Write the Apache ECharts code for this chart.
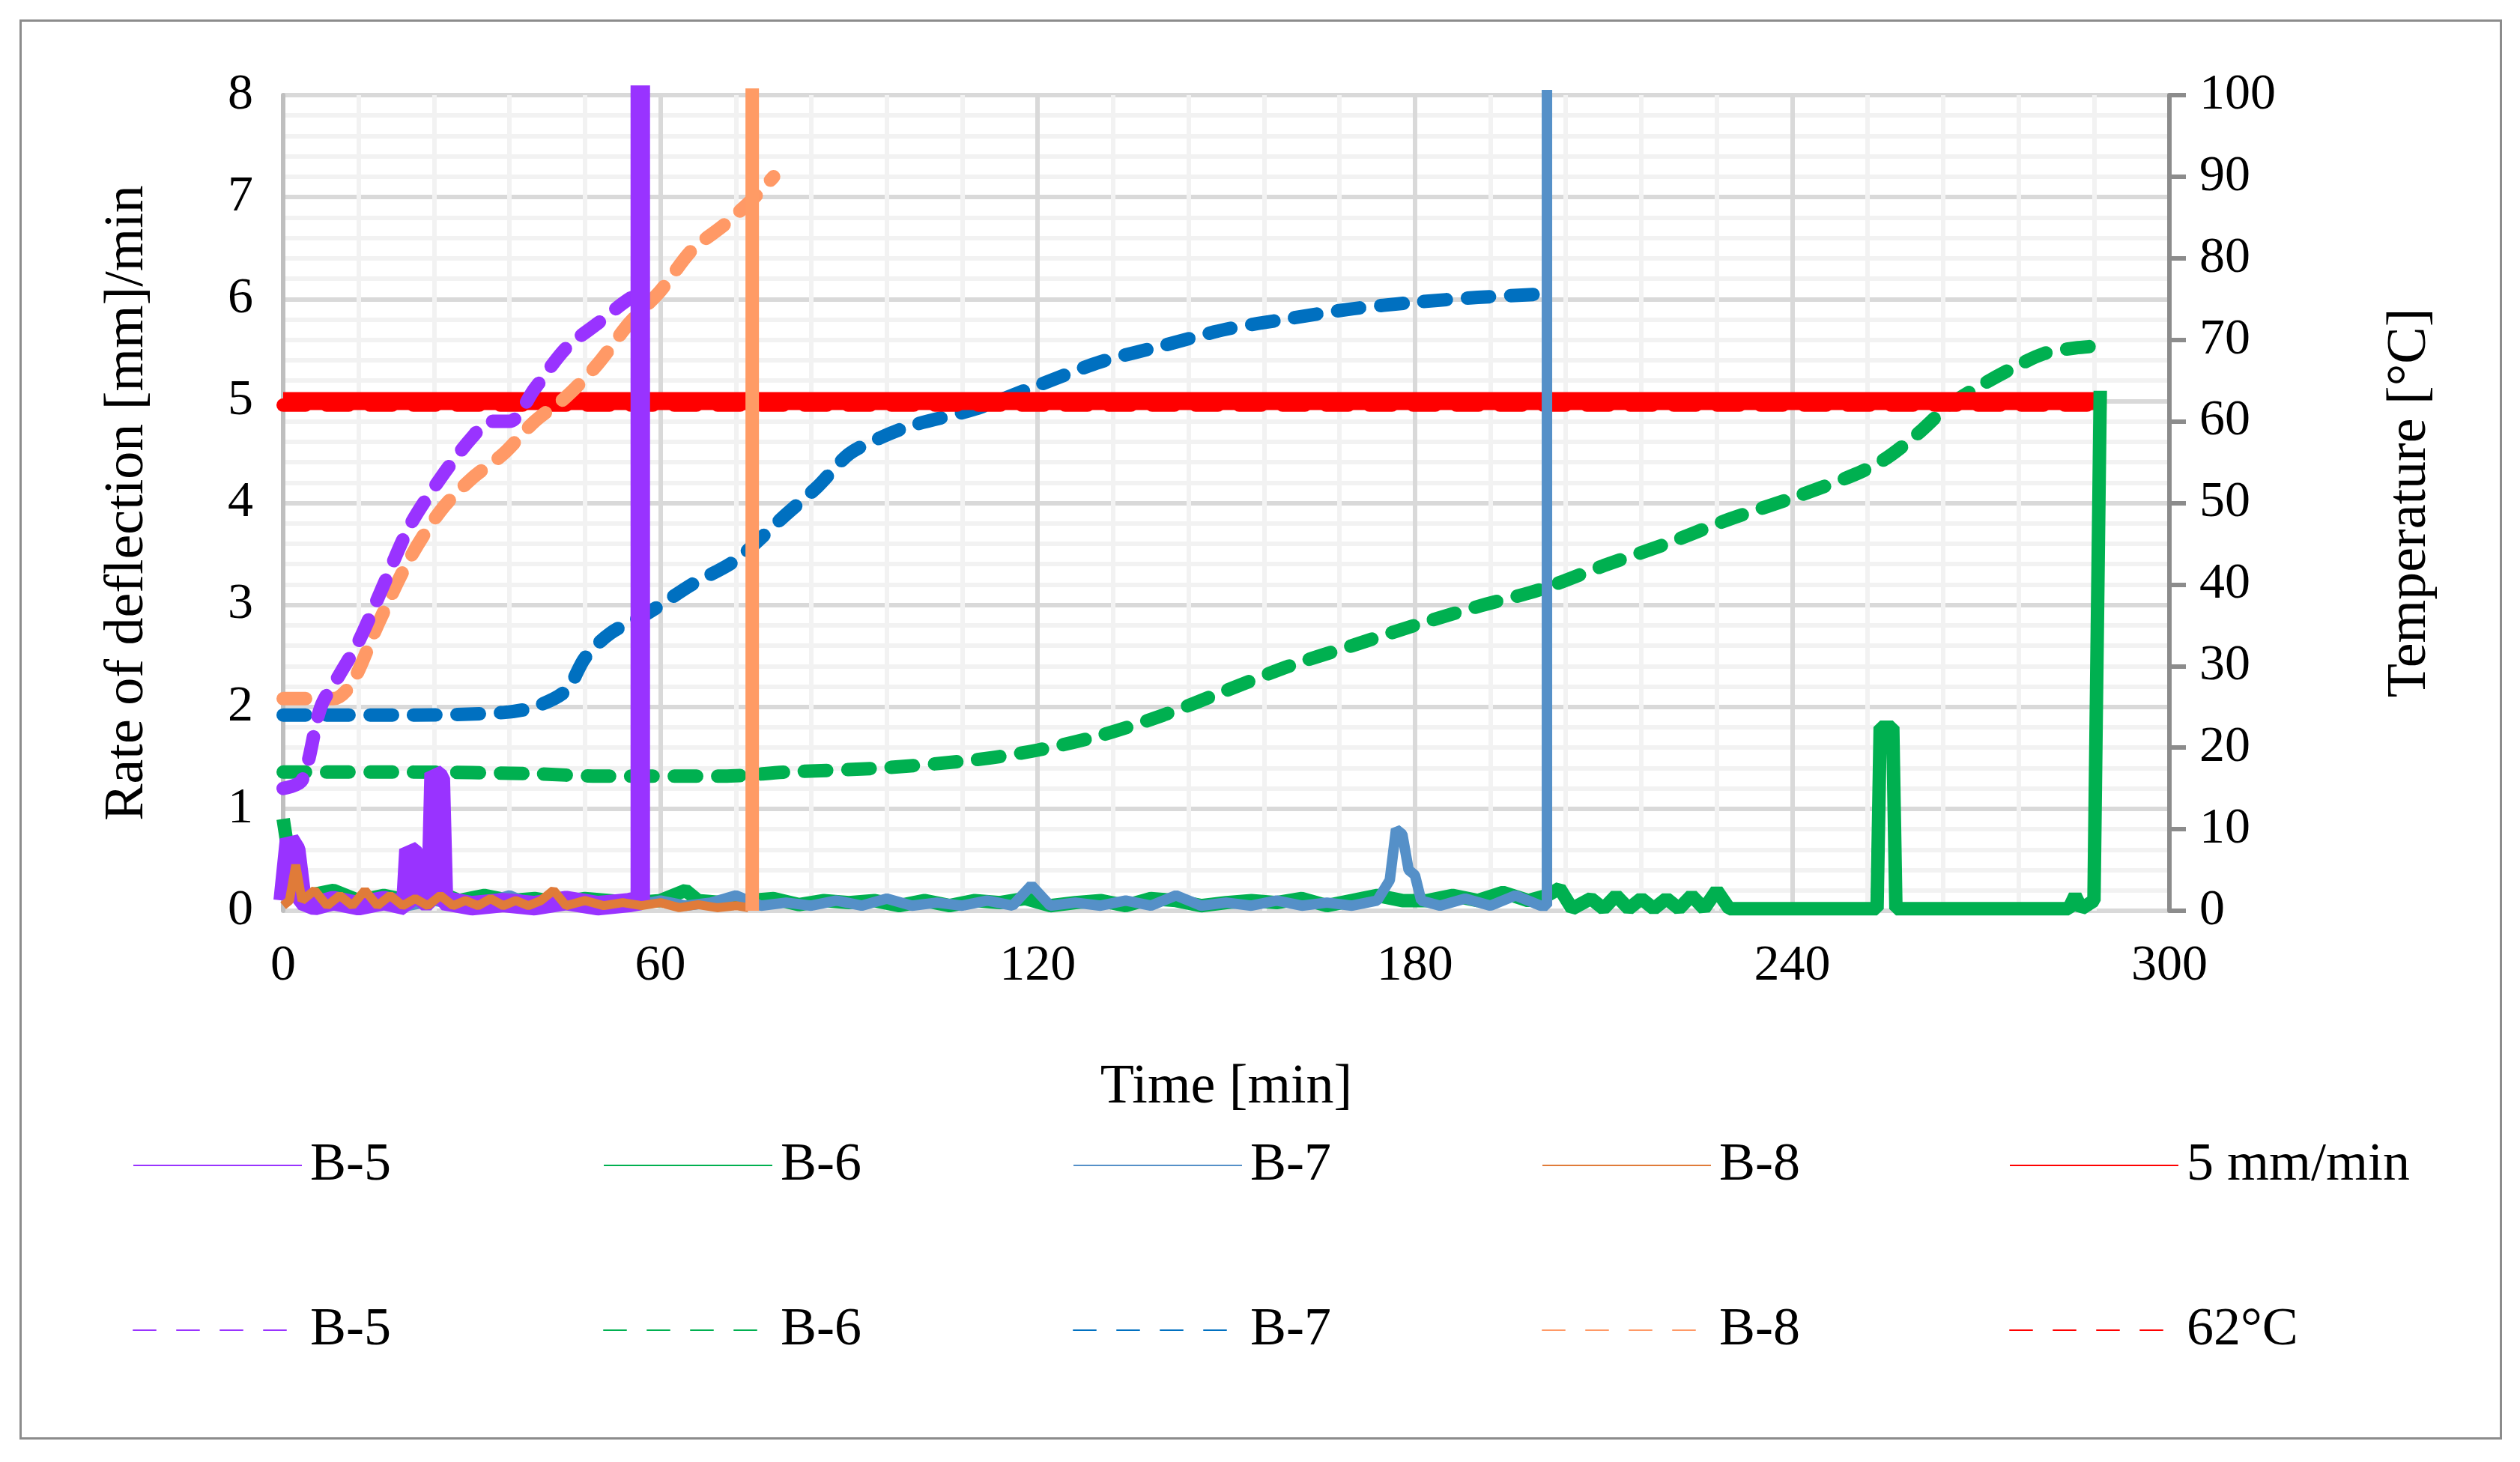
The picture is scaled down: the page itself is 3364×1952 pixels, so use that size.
<!DOCTYPE html>
<html><head><meta charset="utf-8">
<script src="https://cdn.jsdelivr.net/npm/echarts@6/dist/echarts.min.js"></script>
<style>
html,body{margin:0;padding:0;background:#fff;}
#frame{position:absolute;left:26px;top:26px;width:3308px;height:1890px;border:3px solid #8c8c8c;}
#main{position:absolute;left:0;top:0;width:3364px;height:1952px;}
</style></head>
<body><div id="frame"></div><div id="main"></div>
<script>
// rate of deflection [mm/min], pairs [time, rate]
var b5Rate = [[0,0.1],[1,0.7],[2,0.6],[3,0.1],[5,0.05],[8,0.1],[12,0.05],[16,0.1],[19.5,0.05],[20,0.6],[21,0.55],[22,0.1],[23.5,0.1],[24,1.35],[25,1.3],[25.5,0.1],[30,0.05],[35,0.08],[40,0.05],[45,0.1],[50,0.05],[55,0.08],[56.8,0.1],[56.8,8.5]];
var b6Rate = [[0,0.9],[1,0.5],[2,0.2],[4,0.15],[8,0.2],[12,0.1],[16,0.15],[20,0.1],[24,0.2],[28,0.1],[32,0.15],[36,0.1],[40,0.12],[44,0.08],[48,0.12],[52,0.1],[56,0.08],[60,0.1],[64,0.2],[66,0.1],[70,0.08],[74,0.1],[78,0.12],[82,0.06],[86,0.1],[90,0.08],[94,0.1],[98,0.05],[102,0.1],[106,0.05],[110,0.1],[114,0.08],[118,0.12],[122,0.05],[126,0.08],[130,0.1],[134,0.05],[138,0.12],[142,0.1],[146,0.05],[150,0.08],[154,0.1],[158,0.08],[162,0.12],[166,0.05],[170,0.1],[174,0.15],[178,0.1],[182,0.1],[186,0.15],[190,0.1],[194,0.18],[198,0.1],[201,0.15],[203,0.22],[205,0.02],[208,0.12],[210,0.02],[212,0.15],[214,0.02],[216,0.12],[218,0.02],[220,0.12],[222,0.02],[224,0.15],[226,0.02],[228,0.2],[230,0.02],[253.5,0.02],[254,1.8],[256,1.8],[256.5,0.02],[284,0.02],[285,0.15],[286,0.02],[288,0.1],[289,5.1]];
var b7Rate = [[0,0.1],[2,0.2],[4,0.05],[8,0.1],[12,0.05],[16,0.08],[20,0.05],[24,0.1],[28,0.05],[32,0.08],[36,0.15],[40,0.05],[44,0.1],[48,0.05],[52,0.08],[56,0.05],[60,0.1],[64,0.05],[68,0.08],[72,0.15],[76,0.05],[80,0.08],[84,0.05],[88,0.1],[92,0.05],[96,0.12],[100,0.05],[104,0.08],[108,0.05],[112,0.1],[116,0.05],[119,0.25],[122,0.05],[126,0.08],[130,0.05],[134,0.1],[138,0.05],[142,0.15],[146,0.05],[150,0.08],[154,0.05],[158,0.1],[162,0.05],[166,0.08],[170,0.05],[174,0.1],[176,0.3],[177,0.8],[178,0.75],[179,0.4],[180,0.35],[181,0.1],[184,0.05],[188,0.12],[192,0.05],[196,0.15],[200,0.05],[201,0.05],[201,8.5]];
var b8Rate = [[0,0.05],[1,0.1],[2,0.45],[3,0.1],[5,0.2],[7,0.05],[9,0.15],[11,0.05],[13,0.2],[15,0.05],[17,0.15],[19,0.05],[21,0.12],[23,0.05],[25,0.15],[27,0.05],[29,0.1],[31,0.05],[33,0.12],[35,0.05],[37,0.1],[39,0.05],[41,0.1],[43,0.2],[45,0.05],[48,0.1],[51,0.05],[54,0.08],[57,0.05],[60,0.08],[63,0.03],[66,0.06],[69,0.03],[72,0.05],[74,0.03]];
var b8Failure = [[74.6,0],[74.6,8.5]];
var limitRate = [[0,5],[290,5]];
// temperature [°C]
var b5Temp = [[0,15],[3,16],[6,25],[9,29],[12,33],[16,40],[20,47],[25,53],[30,58],[33,60],[36,60],[40,64],[45,69],[50,72],[55,75],[57,75.5]];
var b6Temp = [[0,17],[20,17],[40,16.8],[50,16.5],[70,16.5],[80,17],[95,17.5],[110,18.5],[120,19.7],[130,21.5],[140,24],[150,27],[160,30],[170,32.5],[180,35],[190,37.3],[200,39.4],[210,42.3],[220,45],[230,48],[240,50.6],[250,53.5],[255,55.5],[260,58.5],[265,62],[270,64.4],[275,66.5],[280,68.3],[285,69],[290,69.3]];
var b7Temp = [[0,24],[20,24],[35,24.3],[40,25],[45,27],[48,31],[52,34],[58,36.5],[65,40],[72,43],[80,48.6],[85,52],[90,56],[95,58],[100,59.5],[110,61.5],[120,64.4],[130,67.3],[140,69.3],[150,71.3],[160,72.6],[170,73.8],[180,74.6],[190,75.2],[200,75.6]];
var b8Temp = [[0,26],[8,26],[11,28],[15,35],[20,43],[25,49],[30,53],[35,56],[40,60],[45,63],[50,67],[55,72],[60,76],[65,81],[70,84],[75,87.5],[78,90]];
var limitTemp = [[0,62],[290,62]];
var xTicks = [0, 300, 60];
var font = 'Liberation Serif';

var chart = echarts.init(document.getElementById('main'));
function solid(name, data, color, w) {
  return {name: name, type: 'line', data: data, yAxisIndex: 0, symbol: 'none', color: color,
    lineStyle: {width: w, color: color}};
}
function dashed(name, data, color) {
  return {name: name, type: 'line', data: data, yAxisIndex: 1, symbol: 'none', smooth: 0.3, color: color,
    lineStyle: {width: 18, color: color, type: [30, 28], cap: 'round'}};
}
var legendXs = [172, 800, 1427, 2053, 2677];
var names1 = ['B-5', 'B-6', 'B-7', 'B-8', '5 mm/min'];
var names2 = ['B-5 T', 'B-6 T', 'B-7 T', 'B-8 T', '62°C T'];
var legends = [];
for (var i = 0; i < 5; i++) {
  [[names1[i], 1515], [names2[i], 1735]].forEach(function (p) {
    legends.push({data: [p[0]], left: legendXs[i], top: p[1], itemWidth: 225, itemHeight: 60, itemGap: 0,
      itemStyle: {opacity: 0},
      textStyle: {fontFamily: font, fontSize: 72, color: '#000', padding: [0, 0, 0, 6]},
      formatter: function (n) { return n.replace(' T', ''); }});
  });
}
chart.setOption({
  animation: false,
  legend: legends,
  grid: {left: 378, right: 468, top: 127, bottom: 736},
  xAxis: {type: 'value', min: xTicks[0], max: xTicks[1], interval: xTicks[2],
    name: 'Time [min]', nameLocation: 'middle', nameGap: 200,
    nameTextStyle: {fontFamily: font, fontSize: 74, color: '#000'},
    axisLine: {show: false}, axisTick: {show: false},
    axisLabel: {fontFamily: font, fontSize: 68, color: '#000', margin: 40},
    splitLine: {lineStyle: {color: '#d9d9d9', width: 6}},
    minorTick: {show: false, splitNumber: 5},
    minorSplitLine: {show: true, lineStyle: {color: '#f2f2f2', width: 6}}},
  yAxis: [
    {type: 'value', min: 0, max: 8, interval: 1,
      name: 'Rate of deflection [mm]/min', nameLocation: 'middle', nameGap: 170,
      nameTextStyle: {fontFamily: font, fontSize: 74, color: '#000'},
      axisLine: {show: true, lineStyle: {color: '#bfbfbf', width: 6}}, axisTick: {show: false},
      axisLabel: {fontFamily: font, fontSize: 68, color: '#000', margin: 40},
      splitLine: {lineStyle: {color: '#d9d9d9', width: 6}},
      minorTick: {show: false, splitNumber: 5},
      minorSplitLine: {show: true, lineStyle: {color: '#f2f2f2', width: 6}}},
    {type: 'value', min: 0, max: 100, interval: 10,
      name: 'Temperature [°C]', nameLocation: 'middle', nameGap: 285,
      nameTextStyle: {fontFamily: font, fontSize: 74, color: '#000'},
      axisLine: {show: true, lineStyle: {color: '#8c8c8c', width: 6}},
      axisTick: {show: true, length: 22, lineStyle: {color: '#8c8c8c', width: 6}},
      axisLabel: {fontFamily: font, fontSize: 68, color: '#000', margin: 40},
      splitLine: {show: false}}
  ],
  series: [
    dashed('B-6 T', b6Temp, '#00b050'),
    dashed('B-7 T', b7Temp, '#0070c0'),
    dashed('62°C T', limitTemp, '#ff0000'),
    solid('5 mm/min', limitRate, '#ff0000', 24),
    dashed('B-8 T', b8Temp, '#ff9966'),
    dashed('B-5 T', b5Temp, '#9933ff'),
    solid('B-6', b6Rate, '#00b050', 18),
    solid('B-7', b7Rate, '#5590c8', 14),
    solid('B-5', b5Rate, '#9933ff', 26),
    solid('B-8', b8Rate, '#e07b39', 12),
    {name: 'B-8 failure', type: 'line', data: b8Failure, symbol: 'none', color: '#ff9b65',
      lineStyle: {width: 18, color: '#ff9b65'}}
  ]
});
</script></body></html>
